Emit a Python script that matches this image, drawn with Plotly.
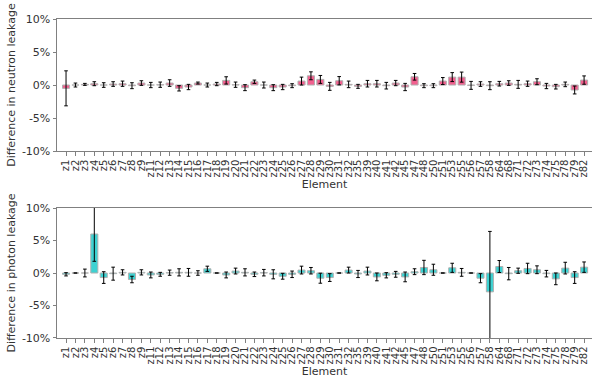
import plotly.graph_objects as go

elements = ["z1", "z2", "z3", "z4", "z5", "z6", "z7", "z8", "z9",
            "z11", "z12", "z13", "z14", "z15", "z16", "z17", "z18", "z19", "z20",
            "z21", "z22", "z23", "z24", "z25", "z26", "z27", "z28", "z29", "z30",
            "z31", "z32", "z35", "z39", "z40", "z41", "z42", "z45", "z47", "z48",
            "z50", "z51", "z53", "z55", "z56", "z57", "z58", "z64", "z68", "z71",
            "z72", "z73", "z74", "z75", "z78", "z79", "z82"]

# Difference in neutron leakage (%)
neutron_diff = [-0.5, 0.0, 0.1, 0.2, 0.0, 0.15, 0.2, -0.1, 0.3,
                0.0, 0.05, 0.3, -0.5, -0.3, 0.3, 0.0, 0.15, 0.7, 0.05,
                -0.4, 0.5, 0.0, -0.4, -0.3, -0.1, 0.6, 1.4, 0.85, -0.2,
                0.65, 0.1, -0.2, 0.2, 0.2, -0.1, 0.3, -0.3, 1.25, -0.1,
                -0.1, 0.6, 1.2, 1.2, -0.05, 0.15, -0.1, 0.2, 0.3, 0.1,
                0.2, 0.5, -0.15, -0.25, 0.1, -0.75, 0.75]
neutron_err = [2.65, 0.3, 0.15, 0.3, 0.35, 0.35, 0.4, 0.45, 0.35,
               0.4, 0.4, 0.5, 0.4, 0.4, 0.15, 0.3, 0.25, 0.55, 0.4,
               0.45, 0.25, 0.45, 0.45, 0.4, 0.3, 0.6, 0.6, 0.6, 0.6,
               0.63, 0.5, 0.3, 0.5, 0.5, 0.5, 0.4, 0.55, 0.5, 0.3,
               0.3, 0.53, 0.68, 0.76, 0.6, 0.35, 0.6, 0.35, 0.35, 0.6,
               0.4, 0.45, 0.4, 0.35, 0.35, 0.6, 0.63]

# Difference in photon leakage (%)
photon_diff = [-0.2, 0.0, 0.0, 6.0, -0.7, -0.1, 0.1, -1.0, 0.1,
               -0.3, -0.2, 0.05, 0.1, 0.1, 0.0, 0.65, 0.0, -0.3, 0.3,
               0.1, -0.2, 0.05, -0.2, -0.5, -0.2, 0.45, 0.35, -0.8, -0.7,
               0.0, 0.45, -0.15, 0.3, -0.6, -0.35, -0.2, -0.6, 0.2, 0.85,
               0.5, 0.0, 0.8, 0.1, 0.0, -0.8, -2.9, 1.0, -0.1, 0.35,
               0.7, 0.5, -0.1, -0.9, 0.75, -0.7, 0.9]
photon_err = [0.25, 0.0, 0.6, 4.2, 0.9, 1.0, 0.4, 0.5, 0.4,
              0.45, 0.3, 0.4, 0.55, 0.6, 0.35, 0.4, 0.0, 0.45, 0.45,
              0.55, 0.35, 0.5, 0.7, 0.45, 0.5, 0.6, 0.5, 0.77, 0.6,
              0.0, 0.45, 0.55, 0.6, 0.6, 0.4, 0.45, 0.75, 0.45, 1.1,
              0.85, 0.0, 0.7, 0.6, 0.0, 0.7, 9.3, 0.92, 0.95, 0.4,
              0.8, 0.6, 0.5, 0.9, 0.9, 0.9, 0.8]

ytickvals = [-10, -5, 0, 5, 10]
yticktext = ["-10%", "-5%", "0%", "5%", "10%"]

FONT = "DejaVu Sans"
AXIS_COLOR = "#808080"
TEXT_COLOR = "#333333"

fig = go.Figure()

fig.add_trace(go.Bar(
    x=elements, y=neutron_diff, width=0.75,
    marker=dict(color="#f2608f", line=dict(color="#b0b0b0", width=1)),
    error_y=dict(type="data", array=neutron_err, color="black", thickness=1, width=1.8),
    xaxis="x", yaxis="y", showlegend=False,
))
fig.add_trace(go.Bar(
    x=elements, y=photon_diff, width=0.75,
    marker=dict(color="#3ed2d2", line=dict(color="#b0b0b0", width=1)),
    error_y=dict(type="data", array=photon_err, color="black", thickness=1, width=1.8),
    xaxis="x2", yaxis="y2", showlegend=False,
))

def xaxis_cfg(anchor):
    return dict(
        anchor=anchor, domain=[0, 1], type="category",
        range=[-0.96, 55.84], automargin=False,
        tickmode="array", tickvals=elements, ticktext=elements,
        showline=True, linecolor=AXIS_COLOR, linewidth=1, mirror=True,
        ticks="outside", ticklen=3.5, tickcolor=AXIS_COLOR, tickwidth=1,
        tickangle=-90, tickfont=dict(family=FONT, size=10, color=TEXT_COLOR),
        showgrid=False, zeroline=False,
        title=dict(text="Element", font=dict(family=FONT, size=11, color=TEXT_COLOR), standoff=3),
    )

def yaxis_cfg(anchor, domain, title):
    return dict(
        anchor=anchor, domain=domain, range=[-10, 10], automargin=False,
        tickvals=ytickvals, ticktext=yticktext,
        showline=True, linecolor=AXIS_COLOR, linewidth=1, mirror=False,
        ticks="outside", ticklen=3.5, tickcolor=AXIS_COLOR, tickwidth=1,
        tickfont=dict(family=FONT, size=11, color=TEXT_COLOR),
        showgrid=False, zeroline=False,
        title=dict(text=title, font=dict(family=FONT, size=11, color=TEXT_COLOR), standoff=4),
    )

fig.update_layout(
    width=592, height=383,
    margin=dict(l=57, r=0, t=19, b=45),
    paper_bgcolor="white", plot_bgcolor="white",
    font=dict(family=FONT, size=10, color=TEXT_COLOR),
    xaxis=xaxis_cfg("y"),
    yaxis=yaxis_cfg("x", [0.586, 1], "Difference in neutron leakage"),
    xaxis2=xaxis_cfg("y2"),
    yaxis2=yaxis_cfg("x2", [0, 0.4075], "Difference in photon leakage"),
    bargap=0.2,
)

fig.write_html(
    "out.html",
    config={"displayModeBar": False},
    post_script="document.body.style.margin='0';document.body.style.overflow='hidden';",
)
